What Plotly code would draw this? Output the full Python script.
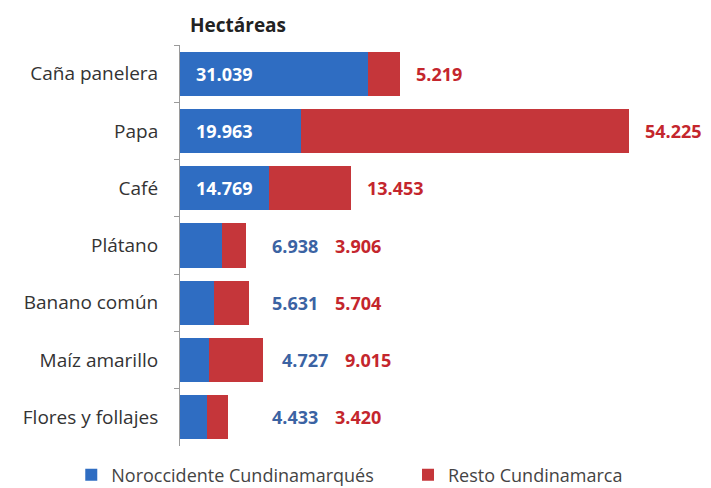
import plotly.graph_objects as go

categories = ["Caña panelera", "Papa", "Café", "Plátano", "Banano común", "Maíz amarillo", "Flores y follajes"]
noroccidente = [31039, 19963, 14769, 6938, 5631, 4727, 4433]
resto = [5219, 54225, 13453, 3906, 5704, 9015, 3420]
series_names = ["Noroccidente Cundinamarqués", "Resto Cundinamarca"]

BLUE = "#2f6dc2"
RED = "#c5363a"
BLUE_TXT = "#3b63a3"
RED_TXT = "#c4262d"
FONT = "Open Sans"

def fmt(v):
    return f"{v:,}".replace(",", ".")

fig = go.Figure()
fig.add_trace(go.Bar(y=categories, x=noroccidente, orientation="h", name=series_names[0],
                     marker=dict(color=BLUE, line=dict(width=0)), legend="legend"))
fig.add_trace(go.Bar(y=categories, x=resto, orientation="h", name=series_names[1],
                     marker=dict(color=RED, line=dict(width=0)), legend="legend2"))

VSIZE = 18
annotations = []
for c, b, r in zip(categories, noroccidente, resto):
    total = b + r
    if b > 10000:
        annotations.append(dict(x=0, y=c, xref="x", yref="y", text=f"<b>{fmt(b)}</b>",
                                showarrow=False, xanchor="left", xshift=14,
                                font=dict(color="white", size=VSIZE, family=FONT)))
        annotations.append(dict(x=total, y=c, xref="x", yref="y", text=f"<b>{fmt(r)}</b>",
                                showarrow=False, xanchor="left", xshift=14,
                                font=dict(color=RED_TXT, size=VSIZE, family=FONT)))
    else:
        base = max(total, 12000)
        annotations.append(dict(x=base, y=c, xref="x", yref="y", text=f"<b>{fmt(b)}</b>",
                                showarrow=False, xanchor="left", xshift=17,
                                font=dict(color=BLUE_TXT, size=VSIZE, family=FONT)))
        annotations.append(dict(x=base, y=c, xref="x", yref="y", text=f"<b>{fmt(r)}</b>",
                                showarrow=False, xanchor="left", xshift=80,
                                font=dict(color=RED_TXT, size=VSIZE, family=FONT)))

annotations.append(dict(x=0, y=1, xref="x", yref="paper", text="<b>Hectáreas</b>",
                        showarrow=False, xanchor="left", yanchor="bottom", xshift=8, yshift=5,
                        font=dict(color="#222", size=19, family=FONT)))

legend_common = dict(orientation="h", xanchor="left", xref="container",
                     y=0.027, yref="container", yanchor="middle",
                     font=dict(size=18, color="#444", family=FONT), itemwidth=30)

# the page adds an 8px body margin, so the figure is 8px smaller than the window
fig.update_layout(
    barmode="stack",
    bargap=0.23,
    width=703, height=480,
    margin=dict(l=172, r=16, t=37, b=42, autoexpand=False),
    paper_bgcolor="white", plot_bgcolor="white",
    font=dict(family=FONT, color="#333"),
    annotations=annotations,
    showlegend=True,
    legend=dict(x=0.09, **legend_common),
    legend2=dict(x=0.569, **legend_common),
    xaxis=dict(range=[0, 85000], visible=False),
    yaxis=dict(categoryorder="array", categoryarray=categories, autorange="reversed",
               automargin=False,
               showline=True, linecolor="#9a9a9a", linewidth=1,
               ticks="outside", ticklen=5, tickcolor="#9a9a9a", tickson="boundaries",
               ticklabelstandoff=17,
               tickfont=dict(size=19, color="#333", family=FONT), showgrid=False),
)

fig.write_html("out.html")
